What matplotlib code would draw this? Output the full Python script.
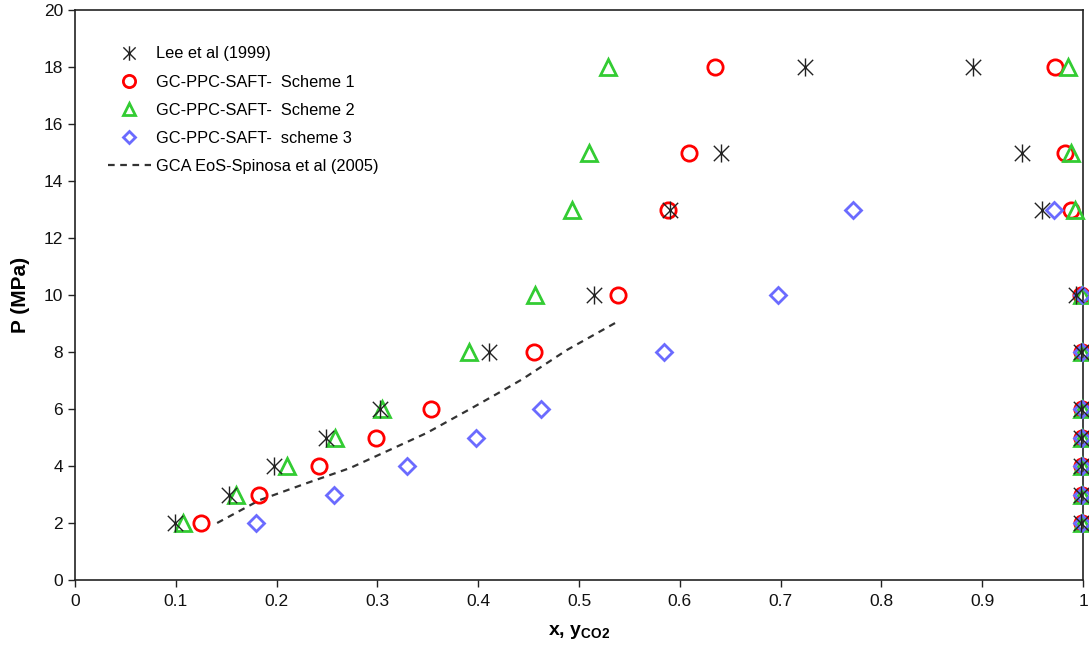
import numpy as np
import matplotlib
matplotlib.use('Agg')
from matplotlib import pyplot as plt
from matplotlib.path import Path

plt.rcParams['font.family'] = ['Liberation Sans', 'DejaVu Sans']
plt.rcParams['mathtext.fontset'] = 'custom'
plt.rcParams['mathtext.rm'] = 'Liberation Sans'
plt.rcParams['mathtext.bf'] = 'Liberation Sans:bold'

# Lee et al (1999), liquid branch then vapour branch
lee_x = [0.099, 0.153, 0.197, 0.249, 0.303, 0.411, 0.515, 0.590, 0.641, 0.724,
         0.891, 0.939, 0.959, 0.993, 0.998, 0.998, 0.998, 0.998, 0.998, 0.998]
lee_p = [2, 3, 4, 5, 6, 8, 10, 13, 15, 18,
         18, 15, 13, 10, 8, 6, 5, 4, 3, 2]

# GC-PPC-SAFT scheme 1
s1_x = [0.125, 0.183, 0.242, 0.299, 0.353, 0.455, 0.539, 0.588, 0.609, 0.635,
        0.972, 0.982, 0.988, 0.998, 0.999, 0.999, 0.999, 0.999, 0.999, 0.999]
s1_p = [2, 3, 4, 5, 6, 8, 10, 13, 15, 18,
        18, 15, 13, 10, 8, 6, 5, 4, 3, 2]

# GC-PPC-SAFT scheme 2
s2_x = [0.107, 0.160, 0.210, 0.258, 0.305, 0.391, 0.456, 0.493, 0.510, 0.529,
        0.985, 0.988, 0.992, 0.999, 0.999, 0.999, 0.999, 0.999, 0.999, 0.999]
s2_p = [2, 3, 4, 5, 6, 8, 10, 13, 15, 18,
        18, 15, 13, 10, 8, 6, 5, 4, 3, 2]

# GC-PPC-SAFT scheme 3
s3_x = [0.180, 0.257, 0.329, 0.398, 0.462, 0.584, 0.697, 0.772,
        0.971, 0.999, 0.999, 0.999, 0.999, 0.999, 0.999, 0.999]
s3_p = [2, 3, 4, 5, 6, 8, 10, 13,
        13, 10, 8, 6, 5, 4, 3, 2]

# GCA EoS - Spinosa et al (2005)
gca_x = [0.141, 0.183, 0.230, 0.273, 0.349, 0.392, 0.422, 0.444, 0.488, 0.539]
gca_p = [2.0, 2.8, 3.4, 3.93, 5.16, 6.0, 6.6, 7.05, 8.07, 9.08]

# six-arm asterisk like the spreadsheet "star" marker
star = Path([(0, -1), (0, 1), (-0.85, -0.85), (0.85, 0.85), (-0.85, 0.85), (0.85, -0.85)],
            [Path.MOVETO, Path.LINETO, Path.MOVETO, Path.LINETO, Path.MOVETO, Path.LINETO])

fig = plt.figure(figsize=(10.89, 6.55), dpi=100)
ax = fig.add_axes([75 / 1089, 1 - 580 / 655, 1008 / 1089, 570 / 655])

ms = 11
ax.plot(s1_x, s1_p, ls='none', marker='o', ms=ms, mfc='none', mec='#ff0000', mew=2,
        clip_on=False, zorder=3, label='GC-PPC-SAFT-  Scheme 1')
ax.plot(s2_x, s2_p, ls='none', marker='^', ms=ms, mfc='none', mec='#33cc33', mew=2,
        clip_on=False, zorder=4, label='GC-PPC-SAFT-  Scheme 2')
ax.plot(s3_x, s3_p, ls='none', marker='D', ms=ms * 0.75, mfc='none', mec='#6b6bff', mew=2,
        clip_on=False, zorder=5, label='GC-PPC-SAFT-  scheme 3')
ax.plot(lee_x, lee_p, ls='none', marker=star, ms=13, mfc='none', mec='#222222', mew=1,
        clip_on=False, zorder=6, label='Lee et al (1999)')
ax.plot(gca_x, gca_p, ls=(0, (3, 2.5)), color='#333333', lw=1.6, zorder=2,
        label='GCA EoS-Spinosa et al (2005)')

ax.set_xlim(0, 1)
ax.set_ylim(0, 20)
ax.set_xticks(np.arange(0, 1.01, 0.1))
ax.set_xticklabels(['0', '0.1', '0.2', '0.3', '0.4', '0.5', '0.6', '0.7', '0.8', '0.9', '1'])
ax.set_yticks(range(0, 21, 2))
ax.tick_params(axis='both', direction='out', length=5, width=1, colors='#222222',
               labelsize=12.5, labelcolor='#111111')
ax.tick_params(axis='x', pad=5)
for s in ax.spines.values():
    s.set_color('#222222')
    s.set_linewidth(1.2)

ax.set_xlabel(r'x, y$_{\mathregular{CO2}}$', fontsize=14, fontweight='bold', labelpad=10)
ax.set_ylabel('P (MPa)', fontsize=15, fontweight='bold', labelpad=10)

h, l = ax.get_legend_handles_labels()
order = [3, 0, 1, 2, 4]
leg = ax.legend([h[i] for i in order], [l[i] for i in order], loc='upper left',
                bbox_to_anchor=(0.018, 0.962), frameon=False, fontsize=11.8,
                markerscale=0.8, handlelength=2.6, handletextpad=0.35, labelspacing=0.8)

fig.savefig('out.png', dpi=100)
